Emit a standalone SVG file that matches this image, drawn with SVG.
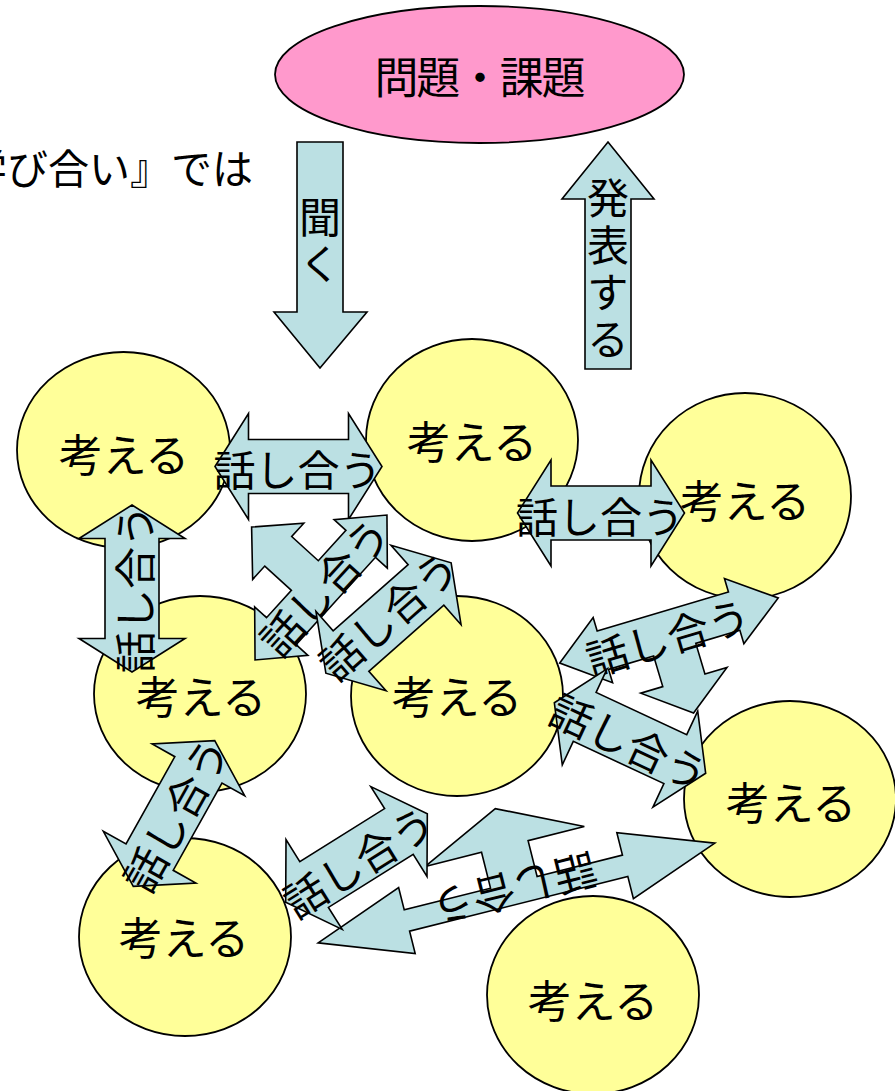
<svg xmlns="http://www.w3.org/2000/svg" width="895" height="1091" viewBox="0 0 895 1091">
<style>
.t{font-family:"Noto Sans CJK JP","Noto Sans CJK SC",sans-serif;font-size:42px;text-anchor:middle;dominant-baseline:central;fill:#000}
.v{font-family:"Noto Sans CJK JP","Noto Sans CJK SC",sans-serif;font-size:42px;text-anchor:middle;writing-mode:vertical-rl;letter-spacing:5px;fill:#000}
.k{font-size:44px}
.c{fill:#FFFF99;stroke:#000;stroke-width:1.8}
.a{fill:#BBE0E3;stroke:#000;stroke-width:1.6;stroke-linejoin:miter}
</style>
<defs>
<path id="dbl" d="M-83.5,0 L-50,-53 L-50,-27 L50,-27 L50,-53 L83.5,0 L50,53 L50,27 L-50,27 L-50,53 Z"/>
</defs>
<rect width="895" height="1091" fill="#fff"/>
<text class="t" x="-75" y="166" style="text-anchor:start;font-size:41px">『学び合い』では</text>
<g id="problem">
<ellipse cx="479.5" cy="74.5" rx="204.5" ry="68.5" fill="#FF99CC" stroke="#000" stroke-width="1.8"/>
<text class="t k" x="480" y="75" textLength="211" lengthAdjust="spacing">問題・課題</text>
</g>
<g id="think1"><ellipse class="c" cx="123.5" cy="450" rx="106.5" ry="98"/><text class="t k" x="124" y="453">考える</text></g>
<g id="think2"><ellipse class="c" cx="472" cy="440" rx="106" ry="101"/><text class="t k" x="472" y="440">考える</text></g>
<g id="think3"><ellipse class="c" cx="745" cy="496" rx="106" ry="103"/><text class="t k" x="745" y="499">考える</text></g>
<g id="think4"><ellipse class="c" cx="200" cy="694" rx="106" ry="98"/><text class="t k" x="201" y="695">考える</text></g>
<g id="think5"><ellipse class="c" cx="457" cy="696" rx="106" ry="100"/><text class="t k" x="457" y="695">考える</text></g>
<g id="think6"><ellipse class="c" cx="790" cy="799" rx="106" ry="98"/><text class="t k" x="791" y="801">考える</text></g>
<g id="think7"><ellipse class="c" cx="185" cy="937" rx="106" ry="99"/><text class="t k" x="184" y="936">考える</text></g>
<g id="think8"><ellipse class="c" cx="593" cy="995" rx="106" ry="99"/><text class="t k" x="593" y="999">考える</text></g>
<g id="connectors">
<g id="listen">
<path class="a" d="M297,142 L343,142 L343,312 L367,312 L320,368 L274,312 L297,312 Z"/>
<text class="v" x="320" y="243">聞く</text>
</g>
<g id="present">
<path class="a" d="M585,369 L585,199 L562,199 L608,142 L654,199 L631,199 L631,369 Z"/>
<text class="v" x="608" y="271">発表する</text>
</g>
<g id="talk-1-2"><use href="#dbl" class="a" transform="translate(298.5,466.5)"/><text class="t" x="297.5" y="467.5">話し合う</text></g>
<g id="talk-2-3"><use href="#dbl" class="a" transform="translate(601,513)"/><text class="t" x="600" y="514">話し合う</text></g>
<g id="talk-1-4"><use href="#dbl" class="a" transform="translate(132,588.5) rotate(90)"/><text class="t" transform="translate(132,589) rotate(-90)">話し合う</text></g>
<g id="talk-center" transform="translate(321,587.5) rotate(-47.7)">
<path class="a" d="M-98,0 L-59,-36 L-59,-20 L-22,-20 L-22,-56 L-40,-56 L-2,-92 L36,-56 L18,-56 L18,-20 L59,-20 L59,-36 L98,0 L59,36 L59,20 L-59,20 L-59,36 Z"/>
<text class="t" x="3" y="0">話し合う</text>
</g>
<g id="talk-4-5" transform="translate(388.5,618) rotate(-41.4)"><use href="#dbl" class="a"/><text class="t" x="2" y="-4">話し合う</text></g>
<g id="talk-right" transform="translate(669,630.5) rotate(-16.6)">
<path class="a" d="M-114,0 L-69,-34 L-69,-20 L68,-20 L68,-34 L114,0 L68,34 L68,20 L22,20 L22,52 L45,52 L0,86 L-45,52 L-22,52 L-22,20 L-69,20 L-69,34 Z"/>
<text class="t" x="-3" y="4">話し合う</text>
</g>
<g id="talk-5-6" transform="translate(630,738) rotate(25)"><use href="#dbl" class="a"/><text class="t" x="1" y="2">話し合う</text></g>
<g id="talk-4-7" transform="translate(174,813.5) rotate(-60.8)"><use href="#dbl" class="a"/><text class="t" x="0" y="0">話し合う</text></g>
<g id="talk-bottom" transform="translate(516.5,893) rotate(-14.1)">
<path class="a" d="M-204.5,0 L-113,-34 L-113,-11 L-24,-11 L-24,-48 L-82,-48 L0,-87 L82,-48 L24,-48 L24,-11 L112,-11 L112,-34 L204.5,0 L112,34 L112,11 L-113,11 L-113,34 Z"/>
<text class="t" transform="translate(-1,-2) rotate(180)">話し合う</text>
</g>
<g id="talk-7-5" transform="translate(356.5,858) rotate(-32)"><use href="#dbl" class="a"/><text class="t" x="0" y="2">話し合う</text></g>
</g>
</svg>
